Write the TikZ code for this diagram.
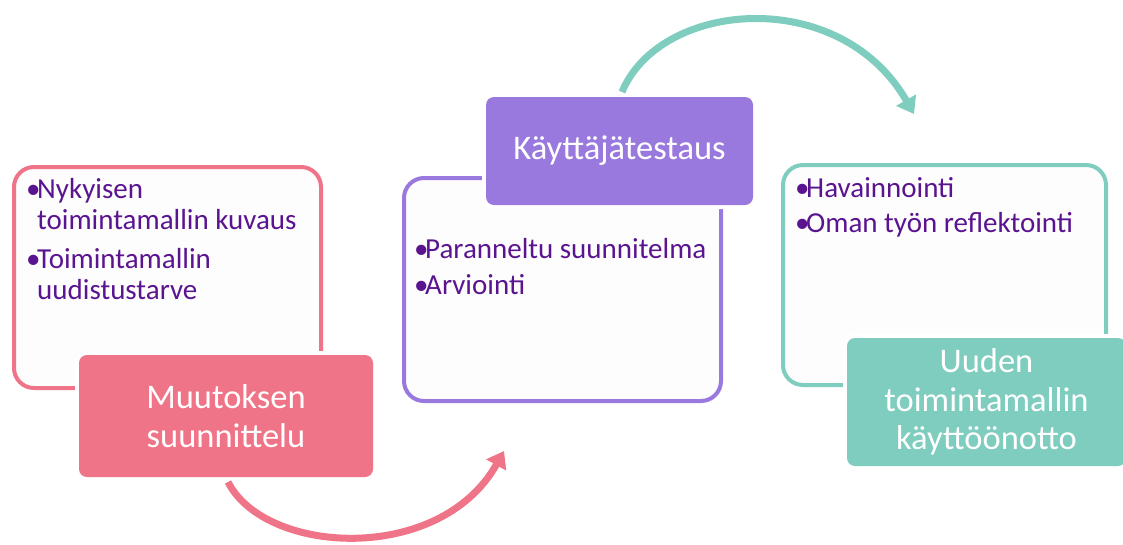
\documentclass[tikz,border=0pt]{standalone}
\usepackage{fontspec}
\setmainfont{Carlito}
\usetikzlibrary{arrows.meta}
\definecolor{pinkc}{HTML}{F07487}
\definecolor{purpc}{HTML}{9A79DF}
\definecolor{tealc}{HTML}{7ECDBE}
\definecolor{txtc}{HTML}{5B1490}
\definecolor{paper}{HTML}{FDFDFD}
\newcommand{\bitem}[1]{\makebox[11pt][l]{•}\parbox[t]{300pt}{#1}}
\tikzset{
  outl/.style={draw=#1, line width=4pt, fill=paper, rounded corners=20pt, inner sep=0pt},
  filled/.style={fill=#1, rounded corners=8pt, inner sep=0pt, text=white, align=center,
     font=\fontsize{34.5}{38.5}\selectfont, preaction={draw=white, line width=8pt}},
  bullets/.style={anchor=base west, inner sep=0pt, text=txtc, font=\fontsize{29}{31.5}\selectfont},
  arc/.style={draw=#1, line width=7pt, -{Triangle[length=16pt,width=22pt]}}
}
\begin{document}
\begin{tikzpicture}[x=1pt,y=-1pt]
\useasboundingbox (0,0) rectangle (1123,544);
% outline boxes
\node[outl=pinkc, minimum width=307pt, minimum height=221pt] (o1) at (167.5,277.5) {};
\node[outl=purpc, minimum width=317pt, minimum height=223pt] (o2) at (562.5,289.5) {};
\node[outl=tealc, minimum width=323pt, minimum height=220pt] (o3) at (944.5,275) {};
% bullet texts
\node[bullets] (b1a) at (26,198) {\bitem{Nykyisen\\toimintamallin kuvaus}};
\node[bullets] (b1b) at (26,268) {\bitem{Toimintamallin\\uudistustarve}};
\node[bullets] (b2a) at (414,258) {\bitem{Paranneltu suunnitelma}};
\node[bullets] (b2b) at (414,294) {\bitem{Arviointi}};
\node[bullets] (b3a) at (795,197) {\bitem{Havainnointi}};
\node[bullets] (b3b) at (795,232) {\bitem{Oman työn reflektointi}};
% filled title boxes
\node[filled=pinkc, minimum width=294pt, minimum height=122pt] (f1) at (226,416) {Muutoksen\\suunnittelu};
\node[filled=purpc, minimum width=267pt, minimum height=108pt] (f2) at (619.5,151) {Käyttäjätestaus};
\node[filled=tealc, minimum width=279pt, minimum height=128pt] (f3) at (986.5,402) {Uuden\\toimintamallin\\käyttöönotto};
% arrows
\coordinate (p1) at (228,482);
\coordinate (p2) at (504,451);
\coordinate (t1) at (622,92);
\coordinate (t2) at (914,114);
\draw[arc=pinkc] (p1) .. controls (265,555) and (440,565) .. (p2);
\draw[arc=tealc] (t1) .. controls (660,0) and (840,-15) .. (t2);
\end{tikzpicture}
\end{document}
